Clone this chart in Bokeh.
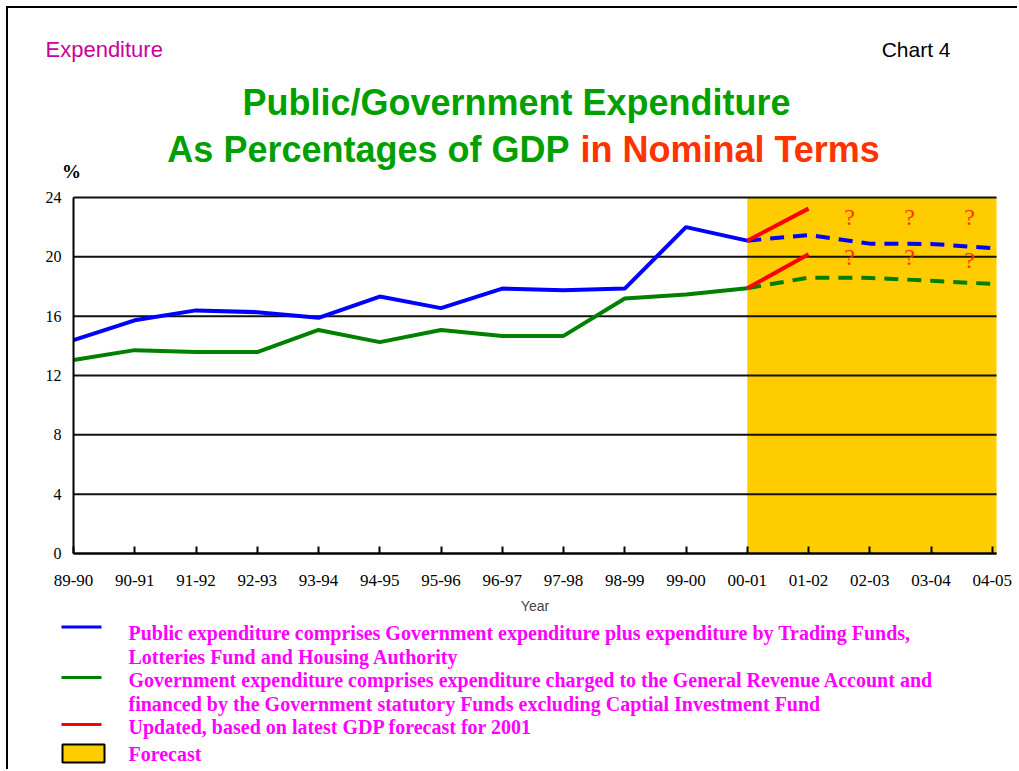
from bokeh.plotting import figure
from bokeh.models import Range1d, FixedTicker
from bokeh.core.properties import value
from bokeh.embed import file_html
from bokeh.resources import INLINE

# ---------------- data ----------------
years = ["89-90", "90-91", "91-92", "92-93", "93-94", "94-95", "95-96", "96-97",
         "97-98", "98-99", "99-00", "00-01", "01-02", "02-03", "03-04", "04-05"]
public_actual = [14.38, 15.72, 16.39, 16.27, 15.89, 17.32, 16.54, 17.86, 17.75, 17.86, 22.0, 21.09]
gov_actual = [13.04, 13.71, 13.58, 13.58, 15.07, 14.25, 15.07, 14.67, 14.67, 17.19, 17.46, 17.88]
public_forecast = [21.09, 21.47, 20.89, 20.87, 20.58]
gov_forecast = [17.88, 18.60, 18.58, 18.39, 18.17]
updated_public = [21.09, 23.25]
updated_gov = [17.88, 20.17]
forecast_start, forecast_end = 11, 15.07
q_x = [12.67, 13.65, 14.63, 12.67, 13.65, 14.63]
q_y = [22.67, 22.67, 22.67, 19.98, 19.98, 19.76]
y_ticks = [0, 4, 8, 12, 16, 20, 24]

legend_texts = [
    "Public expenditure comprises Government expenditure plus expenditure by Trading Funds,",
    "Lotteries Fund and Housing Authority",
    "Government expenditure comprises expenditure charged to the General Revenue Account and",
    "financed by the Government statutory Funds excluding Captial Investment Fund",
    "Updated, based on latest GDP forecast for 2001",
    "Forecast",
]

BLUE = "#0000FF"
GREEN = "#008000"
RED = "#FF0000"
ORANGE = "#FFCC00"
MAGENTA = "#FF00FF"
SERIF = "Liberation Serif"
SANS = "Liberation Sans"

# ---------------- geometry of the single canvas ----------------
W, H = 1011, 763          # canvas occupies page x 8..1019, y 8..771
AXIS_X, AXIS_Y = 65, 545  # canvas position of the chart origin (first year, 0 %)
PX_X = 61.25              # pixels per year step
PX_Y = 356 / 24           # pixels per percentage point

p = figure(width=W, height=H, output_backend="svg", toolbar_location=None,
           x_range=Range1d(-AXIS_X / PX_X, (W - AXIS_X) / PX_X),
           y_range=Range1d(-(H - AXIS_Y) / PX_Y, AXIS_Y / PX_Y),
           min_border=0, min_border_left=0, min_border_right=0,
           min_border_top=0, min_border_bottom=0)
p.extra_x_ranges = {"px": Range1d(0, W)}
p.extra_y_ranges = {"px": Range1d(H, 0)}
p.outline_line_color = None
p.grid.visible = False
p.styles = {"margin-left": "6px", "margin-top": "6px",
            "border-left": "2px solid black", "border-top": "2px solid black"}

# forecast band and horizontal rules
p.quad(left=[forecast_start], right=[forecast_end], bottom=[0], top=[24],
       fill_color=ORANGE, line_color=None, level="image")
p.segment(x0=[0] * len(y_ticks), x1=[forecast_end] * len(y_ticks), y0=y_ticks, y1=y_ticks,
          line_color="#111111", line_width=2)

# axes pinned at the chart origin
p.xaxis.fixed_location = 0
p.xaxis.ticker = FixedTicker(ticks=list(range(len(years))))
p.xaxis.major_label_overrides = {i: y for i, y in enumerate(years)}
p.xaxis.bounds = (0, forecast_end)
p.xaxis.major_tick_in = 7
p.xaxis.major_tick_out = 0
p.xaxis.minor_tick_line_color = None
p.xaxis.axis_line_width = 2
p.xaxis.major_tick_line_width = 2
p.xaxis.major_label_text_font = SERIF
p.xaxis.major_label_text_font_size = "17px"
p.xaxis.major_label_text_color = "black"
p.xaxis.major_label_standoff = 21
p.xaxis.axis_label = "Year"
p.xaxis.axis_label_text_font = SANS
p.xaxis.axis_label_text_font_size = "14px"
p.xaxis.axis_label_text_font_style = "normal"
p.xaxis.axis_label_standoff = 9

p.yaxis.fixed_location = 0
p.yaxis.ticker = FixedTicker(ticks=y_ticks)
p.yaxis.bounds = (0, 24)
p.yaxis.major_tick_in = 0
p.yaxis.major_tick_out = 0
p.yaxis.minor_tick_line_color = None
p.yaxis.axis_line_width = 2
p.yaxis.major_label_text_font = SERIF
p.yaxis.major_label_text_font_size = "16px"
p.yaxis.major_label_text_color = "black"
p.yaxis.major_label_standoff = 12

# series
xa = list(range(len(public_actual)))
xf = list(range(forecast_start, forecast_start + len(public_forecast)))
xu = [forecast_start, forecast_start + 1]
p.line(xa, public_actual, line_color=BLUE, line_width=4)
p.line(xa, gov_actual, line_color=GREEN, line_width=4)
p.line(xf, public_forecast, line_color=BLUE, line_width=4, line_dash="14 9")
p.line(xf, gov_forecast, line_color=GREEN, line_width=4, line_dash="14 9")
p.line(xu, updated_public, line_color=RED, line_width=4)
p.line(xu, updated_gov, line_color=RED, line_width=4)
p.text(x=q_x, y=q_y, text=["?"] * len(q_x), text_font=value(SERIF),
       text_font_size="24px", text_color="#FF3300", text_align="center",
       text_baseline="middle")


# ---------------- texts placed in canvas pixels ----------------
def txt(t, x, y, size, color, font=SANS, style="normal", align="left"):
    p.text(x=[x], y=[y], text=[t], text_font=value(font), text_font_size=size,
           text_color=color, text_font_style=style, text_align=align,
           text_baseline="middle", x_range_name="px", y_range_name="px")


txt("Expenditure", 37, 41, "22px", "#CC0099")
txt("Chart 4", 942, 41, "21px", "black", align="right")
txt("Public/Government Expenditure", 508, 94, "36px", "#00A000", style="bold", align="center")
txt("As Percentages of GDP", 561, 141, "36px", "#00A000", style="bold", align="right")
txt("in Nominal Terms", 572, 141, "36px", "#FF3300", style="bold", align="left")
txt("%", 63, 163, "19px", "black", font=SERIF, style="bold", align="center")

legend_y = [624, 648, 671, 695, 718, 745]
for t, yy in zip(legend_texts, legend_y):
    txt(t, 120, yy, "20px", MAGENTA, font=SERIF, style="bold")
for col, yy in [(BLUE, 618.5), (GREEN, 669), (RED, 716)]:
    p.line([53, 93], [yy, yy], line_color=col, line_width=3,
           x_range_name="px", y_range_name="px")
p.quad(left=[54], right=[96], top=[736], bottom=[754], fill_color=ORANGE,
       line_color="black", line_width=2, x_range_name="px", y_range_name="px")

open("out.html", "w").write(file_html(p, INLINE))
